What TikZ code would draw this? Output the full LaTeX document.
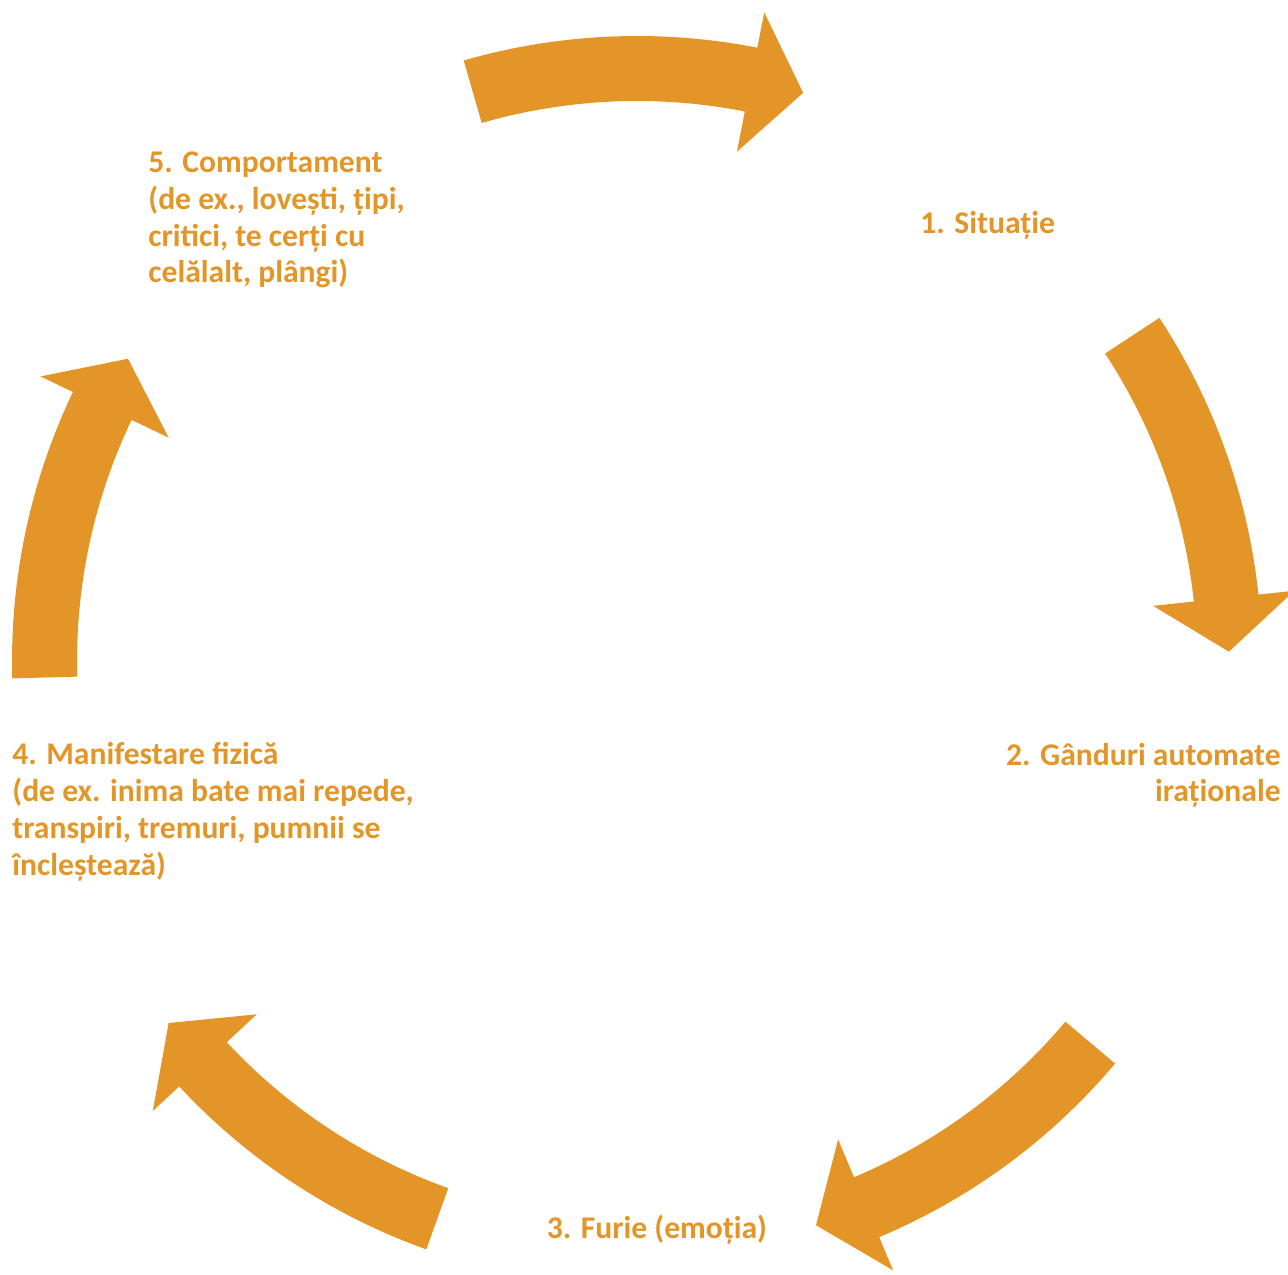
\documentclass[tikz,border=0pt]{standalone}
\usepackage{fontspec}
\setmainfont{Carlito}
\usepackage{tikz}
\usetikzlibrary{positioning}
\definecolor{cycleorange}{HTML}{E39627}

\begin{document}
\begin{tikzpicture}[
	x=0.5pt,
	y=0.5pt,
	cyclelabel/.style={
		inner sep=0pt,
		text=cycleorange,
		font=\bfseries\fontsize{15.8}{18.35}\selectfont
	},
	blockarrow/.style={
		fill=cycleorange,
		draw=none
	}
	]
	\useasboundingbox (0,0) rectangle (1288,1274);
	\coordinate (center) at (637,613);
	\begin{scope}[shift={(center)}]
		\foreach \tail/\tip [evaluate=\tip as \base using \tip+5.2] in {106.1/73.7,33.3/0.9,-40.1/-72.4,-109.7/-142.3,-178.4/-210.7}
		\fill[blockarrow] (\tail:625) arc[start angle=\tail, end angle=\base, radius=625]
			-- (\base:661) -- (\tip:592) -- (\base:519) -- (\base:560)
			arc[start angle=\base, end angle=\tail, radius=560] -- cycle;
	\end{scope}
	% base anchor sits on the last line
	\node[cyclelabel, anchor=base west] (situatie) at (920,1040) {1. Situație};
	\node[cyclelabel, anchor=base east, align=right] (ganduri) at (1281,472) {2. Gânduri automate\\iraționale};
	\node[cyclelabel, anchor=base] (furie) at (657,36) {3. Furie (emoția)};
	\node[cyclelabel, anchor=base west, align=left] (manifestare) at (12,399) {4. Manifestare fizică\\(de ex. inima bate mai repede,\\transpiri, tremuri, pumnii se\\încleștează)};
	\node[cyclelabel, anchor=base west, align=left] (comportament) at (148,991) {5. Comportament\\(de ex., lovești, țipi,\\critici, te cerți cu\\celălalt, plângi)};
\end{tikzpicture}
\end{document}
